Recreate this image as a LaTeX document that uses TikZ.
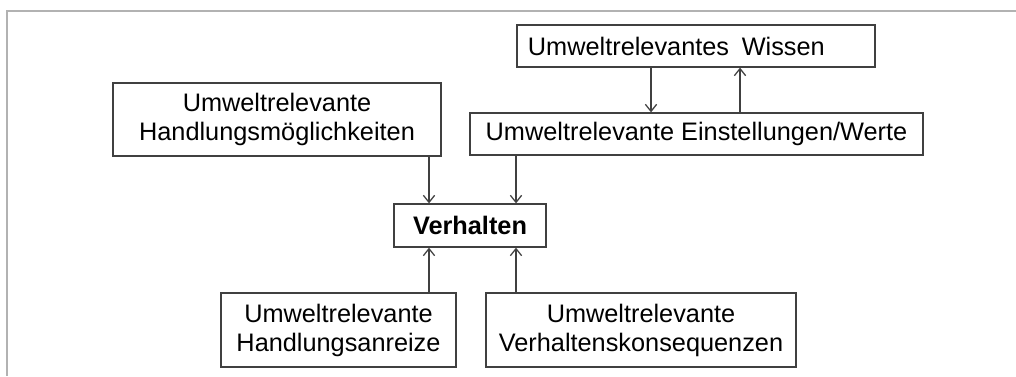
\documentclass[tikz,border=0pt]{standalone}
\usepackage{fontspec}
\setmainfont{Liberation Sans}
\usetikzlibrary{arrows.meta, calc, positioning}

\tikzset{
    box/.style={draw=black!75, line width=0.9pt, inner sep=0pt, align=center,
        font=\fontsize{18}{20.6}\selectfont},
    link/.style={draw=black!75, line width=0.9pt, -{Straight Barb[length=5pt, width=8pt]}},
    frame/.style={draw=black!30, line width=1.4pt}
}

\begin{document}
\begin{tikzpicture}[x=0.025cm, y=-0.025cm]
    \useasboundingbox (0, 0) rectangle (1016, 376);
    \draw[frame] (1016, 11) -- (7, 11) -- (7, 376);

    % boxes
    \node[box, minimum width=8.2cm, minimum height=1.825cm] (hm) at (277, 119.5) {Umweltrelevante\\Handlungsmöglichkeiten};
    \node[box, minimum width=8.95cm, minimum height=1.05cm, text width=8.4cm, inner xsep=0.275cm, align=left] (wis) at (696, 46) {Umweltrelevantes\hspace{0.5em}Wissen};
    \node[box, minimum width=11.325cm, minimum height=1.05cm] (ein) at (696.5, 134) {Umweltrelevante Einstellungen/Werte};
    \node[box, minimum width=3.8cm, minimum height=1.075cm] (verh) at (470, 225.5) {\textbf{Verhalten}};
    \node[box, minimum width=5.875cm, minimum height=1.85cm] (anr) at (338.5, 330) {Umweltrelevante\\Handlungsanreize};
    \node[box, minimum width=7.75cm, minimum height=1.85cm] (kons) at (641, 330) {Umweltrelevante\\Verhaltenskonsequenzen};

    % x positions of the vertical links
    \coordinate (xl) at (429, 0);
    \coordinate (xr) at (516, 0);
    \coordinate (xa) at (651, 0);
    \coordinate (xb) at (740, 0);

    \draw[link] (hm.south -| xl) -- (verh.north -| xl);
    \draw[link] (ein.south -| xr) -- (verh.north -| xr);
    \draw[link] (anr.north -| xl) -- (verh.south -| xl);
    \draw[link] (kons.north -| xr) -- (verh.south -| xr);
    \draw[link] (wis.south -| xa) -- (ein.north -| xa);
    \draw[link] (ein.north -| xb) -- (wis.south -| xb);
\end{tikzpicture}
\end{document}
